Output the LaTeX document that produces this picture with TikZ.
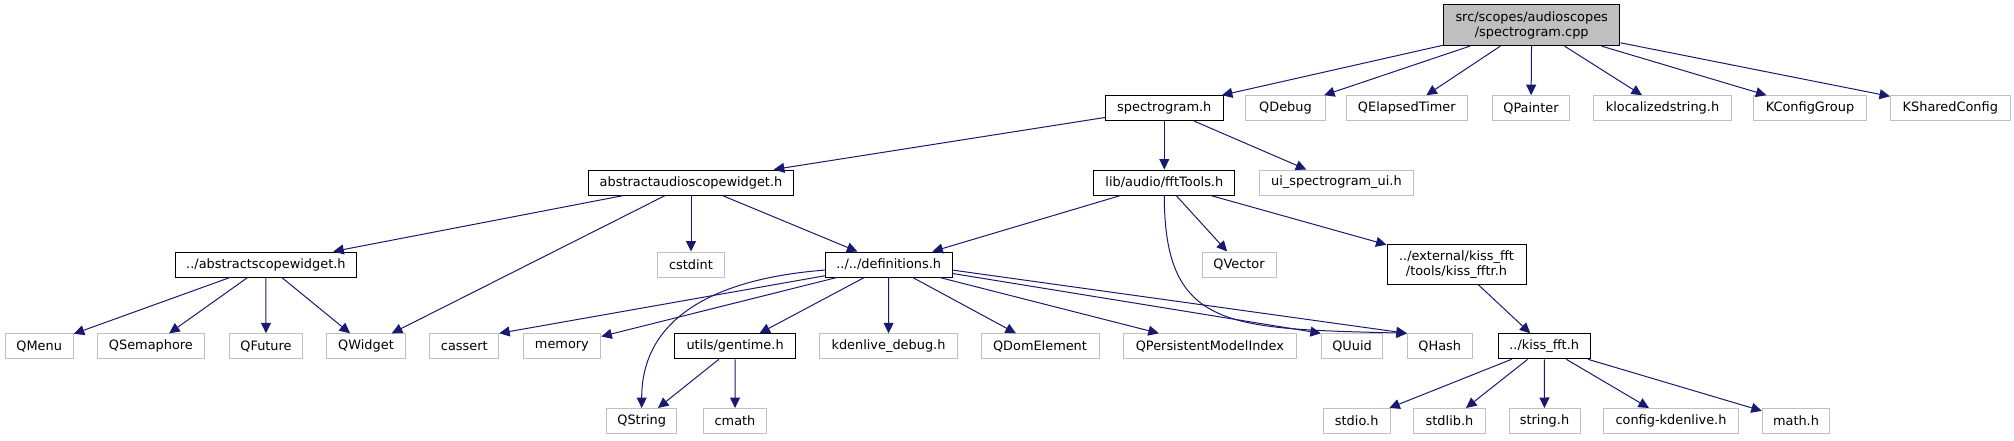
\documentclass[tikz,border=0pt]{standalone}
\usepackage{fontspec}
\newfontfamily\dvs{DejaVu Sans}
\usetikzlibrary{arrows.meta}
\definecolor{navyc}{HTML}{191970}
\definecolor{greyc}{HTML}{BFBFBF}
\begin{document}
\begin{tikzpicture}[x=1pt,y=-1pt,
  nb/.style={rectangle, inner sep=0pt, minimum height=25pt, font={\dvs\fontsize{12.9}{15}\selectfont}, text=black, line width=1pt, align=center},
  dbox/.style={nb, draw=black},
  gbox/.style={nb, draw=greyc},
  rbox/.style={nb, draw=black, fill=greyc, minimum height=40.7pt},
  conn/.style={draw=navyc, line width=1pt, -{Triangle[length=10.5pt,width=10pt]}}]
\useasboundingbox (0,0) rectangle (2014,440);
% row 1
\node[rbox, minimum width=176.5pt] (root) at (1531.7,25.3) {src/scopes/audioscopes\\/spectrogram.cpp};
% row 2
\node[dbox, minimum width=117.7pt] (spec) at (1164.3,108.2) {spectrogram.h};
\node[gbox, minimum width=79.6pt] (qdebug) at (1285.5,108.2) {QDebug};
\node[gbox, minimum width=121.6pt] (qelapsed) at (1406.8,108.2) {QElapsedTimer};
\node[gbox, minimum width=76.3pt] (qpainter) at (1531,108.2) {QPainter};
\node[gbox, minimum width=137.7pt] (kloc) at (1662.5,108.2) {klocalizedstring.h};
\node[gbox, minimum width=113.2pt] (kcg) at (1810,108.2) {KConfigGroup};
\node[gbox, minimum width=119.6pt] (ksc) at (1950.3,108.2) {KSharedConfig};
% row 3
\node[dbox, minimum width=205.3pt] (aasw) at (691,182.5) {abstractaudioscopewidget.h};
\node[dbox, minimum width=141.1pt] (fft) at (1164.3,182.5) {lib/audio/fftTools.h};
\node[gbox, minimum width=154.8pt] (uispec) at (1336.4,182.5) {ui\_spectrogram\_ui.h};
% row 4
\node[dbox, minimum width=181.7pt] (asw) at (265.9,264.5) {../abstractscopewidget.h};
\node[gbox, minimum width=67pt] (cstdint) at (691,264.5) {cstdint};
\node[dbox, minimum width=126.6pt] (defs) at (888.7,264.5) {../../definitions.h};
\node[gbox, minimum width=74pt] (qvector) at (1239,264.5) {QVector};
\node[dbox, minimum width=139pt, minimum height=40pt] (kfftr) at (1456.5,264.3) {../external/kiss\_fft\\/tools/kiss\_fftr.h};
% row 5
\node[gbox, minimum width=68.2pt] (qmenu) at (39.2,346.3) {QMenu};
\node[gbox, minimum width=106.5pt] (qsem) at (150.9,346.3) {QSemaphore};
\node[gbox, minimum width=72.7pt] (qfuture) at (266,346.3) {QFuture};
\node[gbox, minimum width=79.1pt] (qwidget) at (366,346.3) {QWidget};
\node[gbox, minimum width=68.8pt] (cassert) at (464.3,346.3) {cassert};
\node[gbox, minimum width=77.8pt] (memory) at (561.9,346.3) {memory};
\node[dbox, minimum width=120.3pt] (gentime) at (735.1,346.3) {utils/gentime.h};
\node[gbox, minimum width=137.7pt] (kdebug) at (888.5,346.3) {kdenlive\_debug.h};
\node[gbox, minimum width=118pt] (qdom) at (1040,346.3) {QDomElement};
\node[gbox, minimum width=172.7pt] (qpmi) at (1209.9,346.3) {QPersistentModelIndex};
\node[gbox, minimum width=61.4pt] (quuid) at (1352.1,346.3) {QUuid};
\node[gbox, minimum width=64.7pt] (qhash) at (1439.8,346.3) {QHash};
\node[dbox, minimum width=92.4pt] (kfft) at (1544.2,346.3) {../kiss\_fft.h};
% row 6
\node[gbox, minimum width=70pt] (qstring) at (641.7,421) {QString};
\node[gbox, minimum width=63.3pt] (cmath) at (735,421) {cmath};
\node[gbox, minimum width=66.6pt] (stdio) at (1356.7,421) {stdio.h};
\node[gbox, minimum width=71.1pt] (stdlib) at (1449.5,421) {stdlib.h};
\node[gbox, minimum width=71pt] (string) at (1544.5,421) {string.h};
\node[gbox, minimum width=135.1pt] (config) at (1671,421) {config-kdenlive.h};
\node[gbox, minimum width=67.3pt] (mathh) at (1796,421) {math.h};
% edges from root
\foreach \t in {spec,qdebug,qelapsed,qpainter,kloc,kcg,ksc}
  \draw[conn] (root) -- (\t);
% spectrogram.h
\foreach \t in {aasw,fft,uispec}
  \draw[conn] (spec) -- (\t);
% abstractaudioscopewidget.h
\foreach \t in {asw,qwidget,cstdint,defs}
  \draw[conn] (aasw) -- (\t);
% abstractscopewidget.h
\foreach \t in {qmenu,qsem,qfuture,qwidget}
  \draw[conn] (asw) -- (\t);
% fftTools.h
\foreach \t in {defs,qvector,kfftr}
  \draw[conn] (fft) -- (\t);
\draw[conn] (fft.south) .. controls +(0,135) and +(-177,-5) .. (qhash.north west);
% kiss_fftr
\draw[conn] (kfftr) -- (kfft);
% kiss_fft
\foreach \t in {stdio,stdlib,string,config,mathh}
  \draw[conn] (kfft) -- (\t);
% definitions.h
\draw[conn] (defs.185) .. controls +(-105,8) and +(0,-93) .. (qstring.north);
\draw[conn] (defs.190) -- (cassert.north east);
\foreach \t in {memory,gentime,kdebug,qdom,qpmi}
  \draw[conn] (defs) -- (\t);
\draw[conn] (defs.-8) -- (quuid.north west);
\draw[conn] (defs.-5) -- (qhash.north west);
% gentime
\foreach \t in {qstring,cmath}
  \draw[conn] (gentime) -- (\t);
\end{tikzpicture}
\end{document}
